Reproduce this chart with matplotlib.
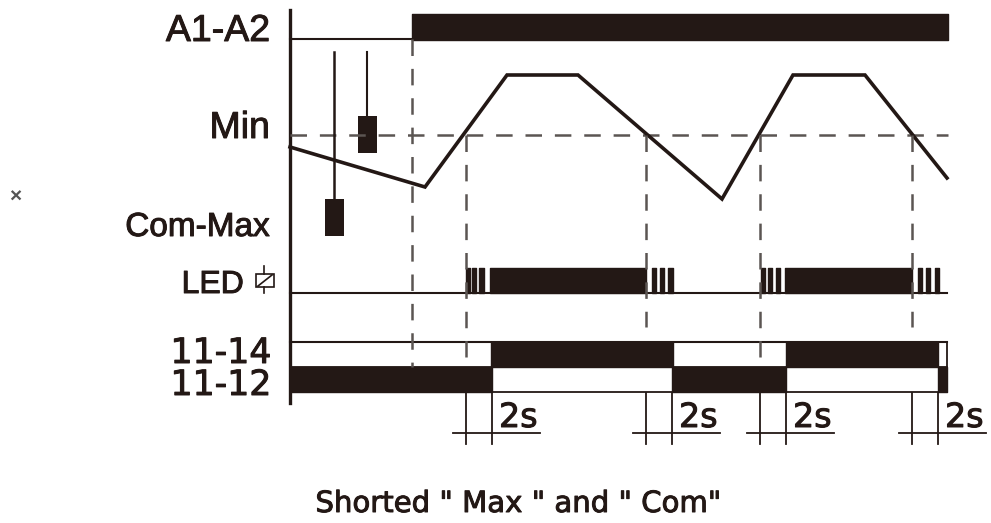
# plot.py
# Timing diagram for a level relay, shorted "Max" and "Com"

import matplotlib
matplotlib.use("Agg")
import matplotlib.pyplot as plt
import matplotlib.patheffects as pe
from matplotlib.patches import Rectangle

INK = "#231815"
GREY = "#5b5552"
DASH = (0, (6.6, 5.15))
BOLDER = [pe.withStroke(linewidth=0.7, foreground=INK)]

# Level curve
curve_t = [290, 425, 507, 578, 722, 793, 865, 947]
curve_y = [147, 187, 75, 75, 199, 75, 75, 178]

# Crossing times of the Min level and the 2 s delay that follows each one
crossings = [466, 646, 760, 912]
delays = [492, 672, 786, 938]
dash_ends = [357, 327, 357, 327]

# On periods (start, width)
supply_on = [(412, 536)]
led_on = [(490, 156), (785, 127)]
led_pulses = [(466, 3.5), (472, 4), (479, 5),
              (652, 4), (660, 4), (668, 5),
              (761, 4), (768, 4), (776, 4),
              (918, 4), (926, 4), (935, 4)]
contact_14_on = [(491, 182), (786, 152)]
contact_12_on = [(290, 202), (672, 114), (938, 9)]

# Row labels
labels = ["A1-A2", "Min", "Com-Max"]
label_y = [41, 138, 236]
label_size = [27, 27, 24]
contact_labels = ["11-14", "11-12"]
contact_y = [363, 395]

fig = plt.figure(figsize=(9.91, 5.23), dpi=100)
ax = fig.add_axes([0, 0, 1, 1])
ax.set_xlim(0, 991)
ax.set_ylim(523, 0)
ax.axis("off")
plt.rcParams["font.family"] = ["Liberation Sans", "DejaVu Sans"]

# Left axis and baselines
ax.plot([290, 290], [10, 403], color=INK, lw=2.4)
ax.plot([290, 412], [39, 39], color=INK, lw=1.5)
ax.plot([290, 947], [293, 293], color=INK, lw=1.5)
ax.plot([290, 947], [342, 342], color=INK, lw=1.5)
ax.plot([290, 947], [367, 367], color=INK, lw=1.3)
ax.plot([290, 947], [392, 392], color=INK, lw=1.3)
ax.plot([947, 947], [342, 392], color=INK, lw=1.3)

# Bars
ax.broken_barh(supply_on, (14, 26), color=INK)
ax.broken_barh(led_on, (268, 25), color=INK)
ax.broken_barh(led_pulses, (268, 25), color=INK)
ax.broken_barh(contact_14_on, (342, 25), color=INK)
ax.broken_barh(contact_12_on, (367, 25), color=INK)

# Min level, curve and dashed guides
ax.plot([290, 948], [135, 135], color=GREY, lw=1.8, ls=DASH, dash_capstyle="butt")
ax.plot(curve_t, curve_y, color=INK, lw=2.6, solid_joinstyle="miter")
ax.plot([412, 412], [38.5, 367], color=GREY, lw=1.8, ls=DASH, dash_capstyle="butt")
for x, end in zip(crossings, dash_ends):
    ax.plot([x, x], [135, end], color=GREY, lw=1.8, ls=DASH, dash_capstyle="butt")

# Electrode probes
ax.plot([334, 334], [52, 200], color=INK, lw=1.8)
ax.add_patch(Rectangle((325, 199), 19, 37, color=INK, lw=0))
ax.plot([367, 367], [52, 117], color=INK, lw=1.5)
ax.add_patch(Rectangle((358, 116), 19, 37, color=INK, lw=0))

# 2s delay markers
for start, stop in zip(crossings, delays):
    ax.plot([start, start], [393, 444], color=INK, lw=1.3)
    ax.plot([stop, stop], [393, 444], color=INK, lw=1.3)
    ax.plot([start - 13, start + 74], [433, 433], color=INK, lw=1.3)
    ax.text(stop + 7, 427, "2s", fontsize=24, family="DejaVu Sans", color=INK, ha="left", va="baseline", path_effects=BOLDER)

# Text
for text, y, size in zip(labels, label_y, label_size):
    ax.text(270, y, text, fontsize=size, color=INK, ha="right", va="baseline", path_effects=BOLDER)
for text, y in zip(contact_labels, contact_y):
    ax.text(272, y, text, fontsize=25, family="DejaVu Sans", color=INK, ha="right", va="baseline", path_effects=BOLDER)
ax.text(244, 293, "LED", fontsize=23, color=INK, ha="right", va="baseline", path_effects=BOLDER)
ax.text(518, 512, "Shorted \" Max \" and \" Com\"", fontsize=21, family="DejaVu Sans", color=INK, ha="center", va="baseline", path_effects=BOLDER)
ax.text(15, 197, "\u00d7", fontsize=15, fontweight="bold", color="#555555", ha="center", va="center")

# Relay symbol next to LED
ax.add_patch(Rectangle((256, 274), 18, 13, fill=False, ec=INK, lw=1.2))
ax.plot([264, 264], [266, 274], color=INK, lw=1.2)
ax.plot([264, 264], [287, 293], color=INK, lw=1.2)
ax.plot([258, 272], [286, 275], color=INK, lw=1.2)

fig.savefig("out.png", dpi=100)
